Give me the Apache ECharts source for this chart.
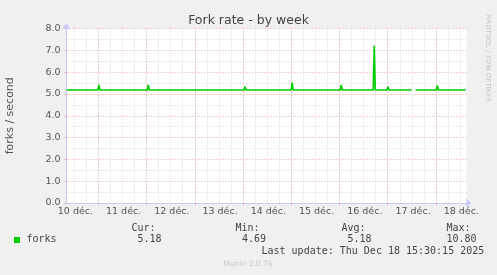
<!DOCTYPE html>
<html>
<head>
<meta charset="utf-8">
<script src="https://cdn.jsdelivr.net/npm/echarts@6/dist/echarts.min.js"></script>
<style>
html,body{margin:0;padding:0;background:#F0F0F0;}
#c{width:497px;height:275px;}
</style>
</head>
<body>
<div id="c"></div>
<script>
// ---- data (x = hours since 10 déc. 00:00) ----
const X_MIN = 8.18;
const X_MAX = 207.2;
const HOURS = [8.2,
  23.8,24.3,24.8, 28.8,29.3,29.8, 48.4,48.9,49.4, 53.7,54.2,54.7, 54.9,55.4,55.9,
  72.0,72.5,73.0, 78.1,78.6,79.1, 87.4,87.9,88.4, 92.4,92.9,93.4,
  96.5,97.0,97.5, 102.8,103.3,103.8, 120.0,120.5,121.0, 125.8,126.3,126.8,
  131.8,132.3,132.8, 144.4,144.9,145.4, 150.2,150.7,151.2, 154.5,155.0,155.5,
  160.8,161.3,161.8, 167.6,168.1,168.6, 170.8,171.3,171.8, 173.6,174.1,174.6,
  176.4,176.9,177.4, 178.9,179.4,179.9, 180.9, 181.9,
  192.2,192.7,193.2, 198.0,198.5,199.0, 200.6,201.1,201.6, 206.8];
const FORKS = [5.18,
  5.18,5.42,5.18, 5.18,5.23,5.18, 5.18,5.42,5.18, 5.18,5.23,5.18, 5.18,5.23,5.18,
  5.18,5.23,5.18, 5.18,5.23,5.18, 5.18,5.22,5.18, 5.18,5.22,5.18,
  5.18,5.33,5.18, 5.18,5.23,5.18, 5.18,5.52,5.18, 5.18,5.22,5.18,
  5.18,5.22,5.18, 5.18,5.42,5.18, 5.18,5.22,5.18, 5.18,5.22,5.18,
  5.18,7.22,5.18, 5.18,5.33,5.18, 5.18,5.23,5.18, 5.18,5.23,5.18,
  5.18,5.23,5.18, 5.18,5.23,5.18, null, 5.18,
  5.18,5.39,5.18, 5.18,5.23,5.18, 5.18,5.23,5.18, 5.18];
const DAY_LABELS = ['10 déc.','11 déc.','12 déc.','13 déc.','14 déc.','15 déc.','16 déc.','17 déc.','18 déc.'];
const DAY_NOONS = [12.6,36.6,60.6,84.6,108.6,132.6,156.6,180.6,204.6];
const MIDNIGHTS = [24,48,72,96,120,144,168,192];
const Y_TICKS = [0,1,2,3,4,5,6,7,8];
const SERIES_NAME = 'forks';
const STATS = {cur:'5.18', min:'4.69', avg:'5.18', max:'10.80'};

const SIX_HOURS = [];
for (let h = 12; h <= 204; h += 6) SIX_HOURS.push(h);

const pts = HOURS.map((h,i)=>[h, FORKS[i]]);

const axisCol = '#C8C8FF';
const redGrid = '#E6A8A8';
const greyGrid = '#D2D2D2';
const mono = 'DejaVu Sans Mono';
const txt = '#444';

const chart = echarts.init(document.getElementById('c'), null, {renderer:'canvas'});
chart.setOption({
  backgroundColor:'#F0F0F0',
  animation:false,
  title:{text:'Fork rate - by week', left:'center', top:9,
    textStyle:{fontFamily:'DejaVu Sans', fontSize:12.5, fontWeight:'normal', color:'#444'}},
  grid:{left:66.5, right:30.5, top:28.5, bottom:72, show:true, backgroundColor:'#FFFFFF', borderWidth:0,
    containLabel:false, outerBoundsMode:'none'},
  xAxis:[
    {type:'value', min:X_MIN, max:X_MAX, gridIndex:0, position:'bottom', offset:0,
     axisLine:{show:false},
     axisTick:{show:true, customValues:SIX_HOURS, length:0.01, lineStyle:{color:'rgba(0,0,0,0)'}},
     axisLabel:{show:false},
     splitLine:{show:true, lineStyle:{color:greyGrid, type:[1,2], width:1}}},
    {type:'value', min:X_MIN, max:X_MAX, gridIndex:0, position:'bottom', offset:0,
     axisLine:{show:true, lineStyle:{color:axisCol,width:1}, symbol:['none','arrow'], symbolSize:[7,6], symbolOffset:[0,5]},
     axisTick:{show:true, customValues:MIDNIGHTS, length:2, lineStyle:{color:redGrid}},
     axisLabel:{show:true, customValues:DAY_NOONS, margin:4, fontFamily:'DejaVu Sans', fontSize:9.5, color:'#555',
       formatter:(v)=>{const i=DAY_NOONS.indexOf(v); return i>=0?DAY_LABELS[i]:'';}},
     splitLine:{show:true, lineStyle:{color:redGrid, type:[1,2], width:1}}}
  ],
  yAxis:[{type:'value', min:Y_TICKS[0], max:Y_TICKS[Y_TICKS.length-1], interval:1,
    name:'forks / second', nameLocation:'middle', nameGap:51,
    nameTextStyle:{fontFamily:'DejaVu Sans', fontSize:11, color:'#555'},
    axisLine:{show:true, lineStyle:{color:axisCol,width:1}, symbol:['none','arrow'], symbolSize:[7,6], symbolOffset:[0,5]},
    axisTick:{show:true, length:2, lineStyle:{color:redGrid}},
    axisLabel:{margin:6, fontFamily:'DejaVu Sans', fontSize:9.5, color:'#555', formatter:(v)=>v.toFixed(1)},
    splitLine:{show:true, lineStyle:{color:redGrid, type:[1,2], width:1}},
    minorTick:{show:false, splitNumber:2},
    minorSplitLine:{show:true, lineStyle:{color:greyGrid, type:[1,2], width:1}}
  }],
  series:[{type:'line', name:SERIES_NAME, xAxisIndex:1, yAxisIndex:0, data:pts, showSymbol:false, connectNulls:false,
    lineStyle:{color:'#00CC00', width:1.6}, z:5}],
  graphic:[
    {type:'text', x:487.5, y:58.5, rotation:-Math.PI/2,
     style:{text:'RRDTOOL / TOBI OETIKER', fontFamily:'DejaVu Sans', fontSize:6.8, fill:'#C4C4C4', align:'center', verticalAlign:'middle'}},
    {type:'rect', shape:{x:14, y:237, width:6, height:6}, style:{fill:'#00CC00'}},
    {type:'text', x:26.5, y:239.5, style:{text:SERIES_NAME, font:'10px "'+mono+'"', fill:txt, verticalAlign:'middle'}},
    {type:'text', x:131.5, y:228, style:{text:'Cur:', font:'10px "'+mono+'"', fill:txt, verticalAlign:'middle'}},
    {type:'text', x:137.5, y:239.5, style:{text:STATS.cur, font:'10px "'+mono+'"', fill:txt, verticalAlign:'middle'}},
    {type:'text', x:235.5, y:228, style:{text:'Min:', font:'10px "'+mono+'"', fill:txt, verticalAlign:'middle'}},
    {type:'text', x:242, y:239.5, style:{text:STATS.min, font:'10px "'+mono+'"', fill:txt, verticalAlign:'middle'}},
    {type:'text', x:341.5, y:228, style:{text:'Avg:', font:'10px "'+mono+'"', fill:txt, verticalAlign:'middle'}},
    {type:'text', x:347.5, y:239.5, style:{text:STATS.avg, font:'10px "'+mono+'"', fill:txt, verticalAlign:'middle'}},
    {type:'text', x:446.5, y:228, style:{text:'Max:', font:'10px "'+mono+'"', fill:txt, verticalAlign:'middle'}},
    {type:'text', x:446.5, y:239.5, style:{text:STATS.max, font:'10px "'+mono+'"', fill:txt, verticalAlign:'middle'}},
    {type:'text', x:261.5, y:251, style:{text:'Last update: Thu Dec 18 15:30:15 2025', font:'10px "'+mono+'"', fill:txt, verticalAlign:'middle'}},
    {type:'text', x:248, y:264.5, style:{text:'Munin 2.0.76', fontFamily:'DejaVu Sans', fontSize:7.5, fill:'#C8C8C8', align:'center', verticalAlign:'middle'}}
  ]
});
</script>
</body>
</html>
